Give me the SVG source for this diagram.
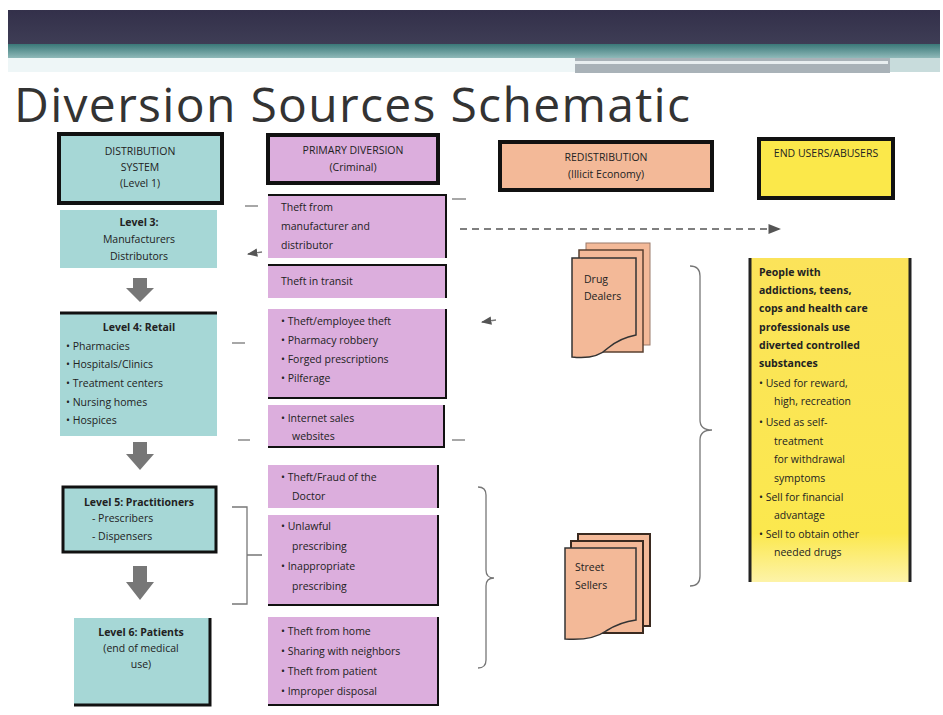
<svg xmlns="http://www.w3.org/2000/svg" width="943" height="715" viewBox="0 0 943 715">
<defs>
<linearGradient id="hdr" x1="0" y1="0" x2="0" y2="1"><stop offset="0" stop-color="#33304a"/><stop offset="1" stop-color="#3e3d55"/></linearGradient>
<linearGradient id="teal" x1="0" y1="0" x2="0" y2="1"><stop offset="0" stop-color="#3a7878"/><stop offset="1" stop-color="#8fb9b9"/></linearGradient>
<linearGradient id="yel" x1="0" y1="0" x2="0" y2="1"><stop offset="0" stop-color="#fbe35a"/><stop offset="0.85" stop-color="#fbe84e"/><stop offset="1" stop-color="#fdf3a8"/></linearGradient>
<marker id="ah" viewBox="0 0 10 10" refX="9" refY="5" markerWidth="8" markerHeight="8" orient="auto"><path d="M0,1 L10,5 L0,9 z" fill="#555"/></marker>
<style>
.t{font-family:"Open Sans","Liberation Sans",sans-serif;font-size:10.5px;fill:#222}
.b{font-weight:bold}
.tl{fill:#a6d7d6}
.pk{fill:#dcaedd}
.sal{fill:#f3b998}
.k{stroke:#111}
.conn{stroke:#777;stroke-width:1.3;fill:none}
.dn{fill:#777}
</style>
</defs>
<rect width="943" height="715" fill="#fff"/>
<g id="header">
<rect x="8" y="10" width="932" height="34" fill="url(#hdr)"/>
<rect x="8" y="44" width="932" height="14" fill="url(#teal)"/>
<rect x="8" y="58" width="567" height="14" fill="#eef6f7"/>
<rect x="575" y="58" width="315" height="15" fill="#a9b2b8"/>
<rect x="575" y="61" width="313" height="3" fill="#e8eef0"/>
<rect x="890" y="58" width="50" height="14" fill="#c8dcdc"/>
</g>
<text x="14" y="122" font-family="Open Sans, Liberation Sans, sans-serif" font-size="48" fill="#333" textLength="676">Diversion Sources Schematic</text>

<g id="connectors">
<line class="conn" x1="245" y1="206" x2="258" y2="206"/>
<line class="conn" x1="262" y1="252" x2="248" y2="254" marker-end="url(#ah)"/>
<line class="conn" x1="232" y1="343" x2="245" y2="343"/>
<line class="conn" x1="238" y1="440" x2="250" y2="440"/>
<path class="conn" d="M232,507 H247 V604 H232 M247,555 H262"/>
<line class="conn" x1="452" y1="199" x2="466" y2="199"/>
<line class="conn" x1="496" y1="320" x2="482" y2="322" marker-end="url(#ah)"/>
<line class="conn" x1="452" y1="440" x2="465" y2="440"/>
<path class="conn" d="M478,487 Q486,487 486,495 V570 Q486,578 494,578 Q486,578 486,586 V660 Q486,668 478,668"/>
<path class="conn" d="M690,266 Q700,266 700,276 V420 Q700,430 712,430 Q700,430 700,440 V576 Q700,586 690,586"/>
<line x1="460" y1="229" x2="780" y2="229" stroke="#555" stroke-width="1.6" stroke-dasharray="7,5" marker-end="url(#ah)"/>
<path class="dn" d="M133,278 h14 v10 h7 l-14,14 l-14,-14 h7 z"/>
<path class="dn" d="M133,442 h14 v12 h7 l-14,16 l-14,-16 h7 z"/>
<path class="dn" d="M133,566 h14 v16 h7 l-14,18 l-14,-18 h7 z"/>
</g>

<g id="level1">
<rect x="59" y="134" width="163" height="69" class="tl k" stroke-width="4"/>
<text class="t" text-anchor="middle" x="140" y="155">DISTRIBUTION</text>
<text class="t" text-anchor="middle" x="140" y="171">SYSTEM</text>
<text class="t" text-anchor="middle" x="140" y="187">(Level 1)</text>
</g>
<g id="level3">
<rect x="60" y="210" width="157" height="58" class="tl"/>
<text class="t b" text-anchor="middle" x="139" y="226">Level 3:</text>
<text class="t" text-anchor="middle" x="139" y="243">Manufacturers</text>
<text class="t" text-anchor="middle" x="139" y="260">Distributors</text>
</g>
<g id="level4">
<rect x="60" y="313" width="157" height="123" class="tl"/>
<line x1="60" y1="313" x2="217" y2="313" stroke="#111" stroke-width="3"/>
<text class="t b" text-anchor="middle" x="139" y="331">Level 4: Retail</text>
<text class="t" x="66" y="350">• Pharmacies</text>
<text class="t" x="66" y="368">• Hospitals/Clinics</text>
<text class="t" x="66" y="387">• Treatment centers</text>
<text class="t" x="66" y="406">• Nursing homes</text>
<text class="t" x="66" y="424">• Hospices</text>
</g>
<g id="level5">
<rect x="63" y="487" width="153" height="65" class="tl k" stroke-width="3"/>
<text class="t b" text-anchor="middle" x="139" y="506">Level 5: Practitioners</text>
<text class="t" x="92" y="522">-  Prescribers</text>
<text class="t" x="92" y="540">-  Dispensers</text>
</g>
<g id="level6">
<rect x="74" y="618" width="136" height="87" class="tl"/>
<path d="M210,618 V705 H74" fill="none" stroke="#111" stroke-width="3"/>
<text class="t b" text-anchor="middle" x="141" y="636">Level 6: Patients</text>
<text class="t" text-anchor="middle" x="141" y="652">(end of medical</text>
<text class="t" text-anchor="middle" x="141" y="668">use)</text>
</g>

<g id="primary">
<rect x="268" y="135" width="170" height="48" class="pk k" stroke-width="4"/>
<text class="t" text-anchor="middle" x="353" y="154">PRIMARY DIVERSION</text>
<text class="t" text-anchor="middle" x="353" y="171">(Criminal)</text>
</g>
<g id="boxA">
<rect x="268" y="195" width="178" height="63" class="pk"/>
<path d="M268,195 H446 V258" fill="none" stroke="#111" stroke-width="2"/>
<text class="t" x="281" y="211">Theft from</text>
<text class="t" x="281" y="230">manufacturer and</text>
<text class="t" x="281" y="249">distributor</text>
</g>
<g id="boxB">
<rect x="268" y="265" width="178" height="33" class="pk"/>
<path d="M268,265 H446 V298" fill="none" stroke="#111" stroke-width="2"/>
<text class="t" x="281" y="285">Theft in transit</text>
</g>
<g id="boxC">
<rect x="268" y="309" width="178" height="89" class="pk"/>
<path d="M446,309 V398 H268" fill="none" stroke="#111" stroke-width="2"/>
<text class="t" x="281" y="325">•  Theft/employee theft</text>
<text class="t" x="281" y="344">•  Pharmacy robbery</text>
<text class="t" x="281" y="363">•  Forged prescriptions</text>
<text class="t" x="281" y="382">•  Pilferage</text>
</g>
<g id="boxD">
<rect x="268" y="405" width="176" height="42" class="pk"/>
<path d="M444,405 V447 H268" fill="none" stroke="#111" stroke-width="2"/>
<text class="t" x="281" y="422">•  Internet sales</text>
<text class="t" x="292" y="440">websites</text>
</g>
<g id="boxE">
<rect x="268" y="465" width="170" height="43" class="pk"/>
<path d="M438,465 V508" fill="none" stroke="#111" stroke-width="2"/>
<text class="t" x="281" y="481">•  Theft/Fraud of the</text>
<text class="t" x="292" y="500">Doctor</text>
</g>
<g id="boxF">
<rect x="268" y="515" width="170" height="90" class="pk"/>
<path d="M438,515 V605 H268" fill="none" stroke="#111" stroke-width="2"/>
<text class="t" x="281" y="530">•  Unlawful</text>
<text class="t" x="292" y="550">prescribing</text>
<text class="t" x="281" y="570">•  Inappropriate</text>
<text class="t" x="292" y="590">prescribing</text>
</g>
<g id="boxG">
<rect x="268" y="617" width="170" height="88" class="pk"/>
<path d="M438,617 V705 H268" fill="none" stroke="#111" stroke-width="2"/>
<text class="t" x="281" y="635">•  Theft from home</text>
<text class="t" x="281" y="655">•  Sharing with neighbors</text>
<text class="t" x="281" y="675">•  Theft from patient</text>
<text class="t" x="281" y="695">•  Improper disposal</text>
</g>

<g id="redistribution">
<rect x="500" y="142" width="212" height="48" class="sal k" stroke-width="4"/>
<text class="t" text-anchor="middle" x="606" y="161">REDISTRIBUTION</text>
<text class="t" text-anchor="middle" x="606" y="178">(Illicit Economy)</text>
</g>
<g id="endusers">
<rect x="759" y="139" width="134" height="59" fill="#fbe84a" class="k" stroke-width="4"/>
<text class="t" text-anchor="middle" x="826" y="157">END USERS/ABUSERS</text>
</g>

<g id="drugdealers">
<rect x="586" y="243" width="64" height="102" class="sal" stroke="#9a7a6a" stroke-width="1"/>
<rect x="579" y="250" width="64" height="102" class="sal" stroke="#5a4030" stroke-width="1.5"/>
<path d="M572,258 H636 V335 Q620,338 608,348 Q596,360 572,357 Z" class="sal" stroke="#333" stroke-width="1.5"/>
<text class="t" x="584" y="283">Drug</text>
<text class="t" x="584" y="300">Dealers</text>
</g>
<g id="streetsellers">
<rect x="578" y="534" width="72" height="92" class="sal" stroke="#3a2a20" stroke-width="2"/>
<rect x="571" y="541" width="72" height="92" class="sal" stroke="#3a2a20" stroke-width="2"/>
<path d="M565,548 H636 V620 Q620,622 606,631 Q592,641 565,639 Z" class="sal" stroke="#333" stroke-width="1.5"/>
<text class="t" x="575" y="571">Street</text>
<text class="t" x="575" y="589">Sellers</text>
</g>

<g id="users">
<rect x="749" y="258" width="162" height="324" fill="url(#yel)"/>
<line x1="750" y1="258" x2="750" y2="582" stroke="#222" stroke-width="3"/>
<line x1="910" y1="258" x2="910" y2="582" stroke="#222" stroke-width="3"/>
<text class="t b" x="759" y="276">People with</text>
<text class="t b" x="759" y="294">addictions, teens,</text>
<text class="t b" x="759" y="312">cops and health care</text>
<text class="t b" x="759" y="331">professionals use</text>
<text class="t b" x="759" y="349">diverted controlled</text>
<text class="t b" x="759" y="367">substances</text>
<text class="t" x="759" y="387">•  Used for reward,</text>
<text class="t" x="774" y="405">high, recreation</text>
<text class="t" x="759" y="426">•  Used as self-</text>
<text class="t" x="774" y="445">treatment</text>
<text class="t" x="774" y="463">for withdrawal</text>
<text class="t" x="774" y="482">symptoms</text>
<text class="t" x="759" y="501">•  Sell for financial</text>
<text class="t" x="774" y="519">advantage</text>
<text class="t" x="759" y="538">•  Sell to obtain other</text>
<text class="t" x="774" y="556">needed drugs</text>
</g>
</svg>
